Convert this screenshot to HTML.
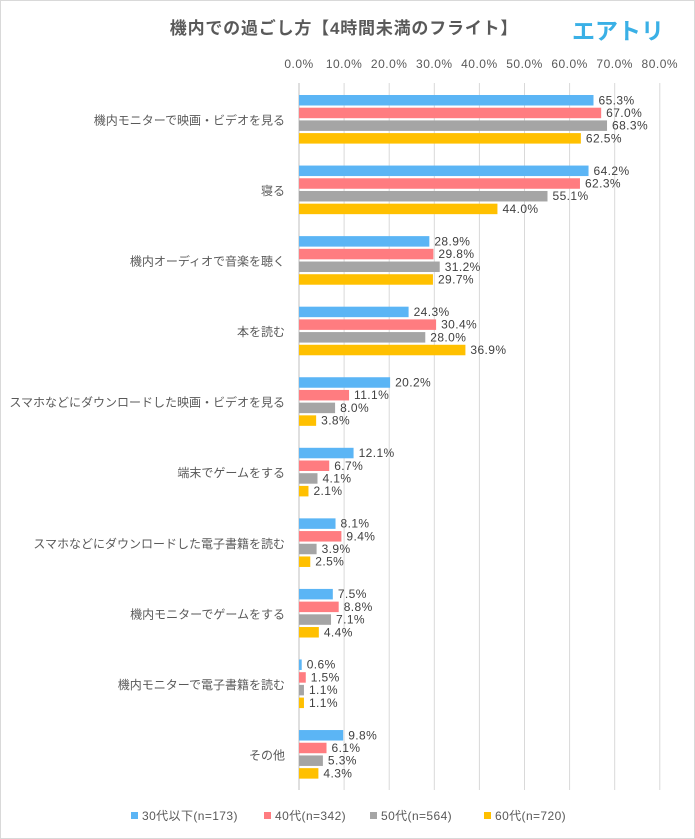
<!DOCTYPE html>
<html><head><meta charset="utf-8">
<style>
body{margin:0;background:#fff;}
#wrap{position:relative;width:695px;height:839px;overflow:hidden;font-family:"Liberation Sans","Noto Sans CJK JP",sans-serif;}
svg text{font-family:"Liberation Sans","Noto Sans CJK JP",sans-serif;}
</style></head>
<body>
<div id="wrap">
<svg id="chart" width="695" height="839">
<rect x="0.5" y="0.5" width="694" height="838" fill="#fff" stroke="#d9d9d9"/>
<text x="344" y="34" text-anchor="middle" font-size="17" font-weight="bold" fill="#595959" letter-spacing="0.8">機内での過ごし方【4時間未満のフライト】</text>
<text x="618" y="39" text-anchor="middle" font-size="23" font-weight="bold" fill="#3ab0e6">エアトリ</text>
</svg>
</div>
<script>
const categories=["機内モニターで映画・ビデオを見る","寝る","機内オーディオで音楽を聴く","本を読む","スマホなどにダウンロードした映画・ビデオを見る","端末でゲームをする","スマホなどにダウンロードした電子書籍を読む","機内モニターでゲームをする","機内モニターで電子書籍を読む","その他"];
const seriesNames=["30代以下(n=173)","40代(n=342)","50代(n=564)","60代(n=720)"];
const s30=[65.3,64.2,28.9,24.3,20.2,12.1,8.1,7.5,0.6,9.8];
const s40=[67.0,62.3,29.8,30.4,11.1,6.7,9.4,8.8,1.5,6.1];
const s50=[68.3,55.1,31.2,28.0,8.0,4.1,3.9,7.1,1.1,5.3];
const s60=[62.5,44.0,29.7,36.9,3.8,2.1,2.5,4.4,1.1,4.3];
const ticks=[0,10,20,30,40,50,60,70,80];
const colors=["#5bb5f5","#ff7c80","#a5a5a5","#ffc000"];
const series=[s30,s40,s50,s60];
const svg=document.getElementById('chart');
const NS="http://www.w3.org/2000/svg";
const x0=299,pxPer=45.1/10;
const xs=v=>x0+v*pxPer;
const gTop=95,gStep=70.56,bStep=12.7,bH=10.5;
function mk(t,a,txt){const e=document.createElementNS(NS,t);for(const k in a)e.setAttribute(k,a[k]);if(txt!==undefined)e.textContent=txt;svg.appendChild(e);return e;}
ticks.forEach(t=>{
  const l=mk('line',{x1:xs(t),x2:xs(t),y1:83,y2:790,stroke:t===0?'#bfbfbf':'#d9d9d9','stroke-width':1});
  
  
  const tx=mk('text',{x:xs(t),y:68,'text-anchor':'middle','font-size':12,fill:'#595959','letter-spacing':0.5},t.toFixed(1)+'%');
  
  
});
categories.forEach((c,i)=>{
  const top=gTop+i*gStep;
  const tx=mk('text',{x:285,y:top+bStep*2+4,'text-anchor':'end','font-size':12,fill:'#595959'},c);
  
  
  series.forEach((s,j)=>{
    const y=top+j*bStep;
    const r=mk('rect',{x:x0,y:y,width:Math.max(0,xs(s[i])-x0),height:bH,fill:colors[j]});
    
    
    const v=mk('text',{x:xs(s[i])+5,y:y+bH/2+4,'font-size':12,fill:'#404040','letter-spacing':0.4},s[i].toFixed(1)+'%');
    
    
  });
});
const lx=[131,264,370,484];
seriesNames.forEach((n,j)=>{
  const r=mk('rect',{x:lx[j],y:812,width:7,height:7,fill:colors[j]});
  
  
  const t=mk('text',{x:lx[j]+11,y:820,'font-size':12,fill:'#595959','letter-spacing':0.4},n);
  
  
});
</script>
</body></html>
